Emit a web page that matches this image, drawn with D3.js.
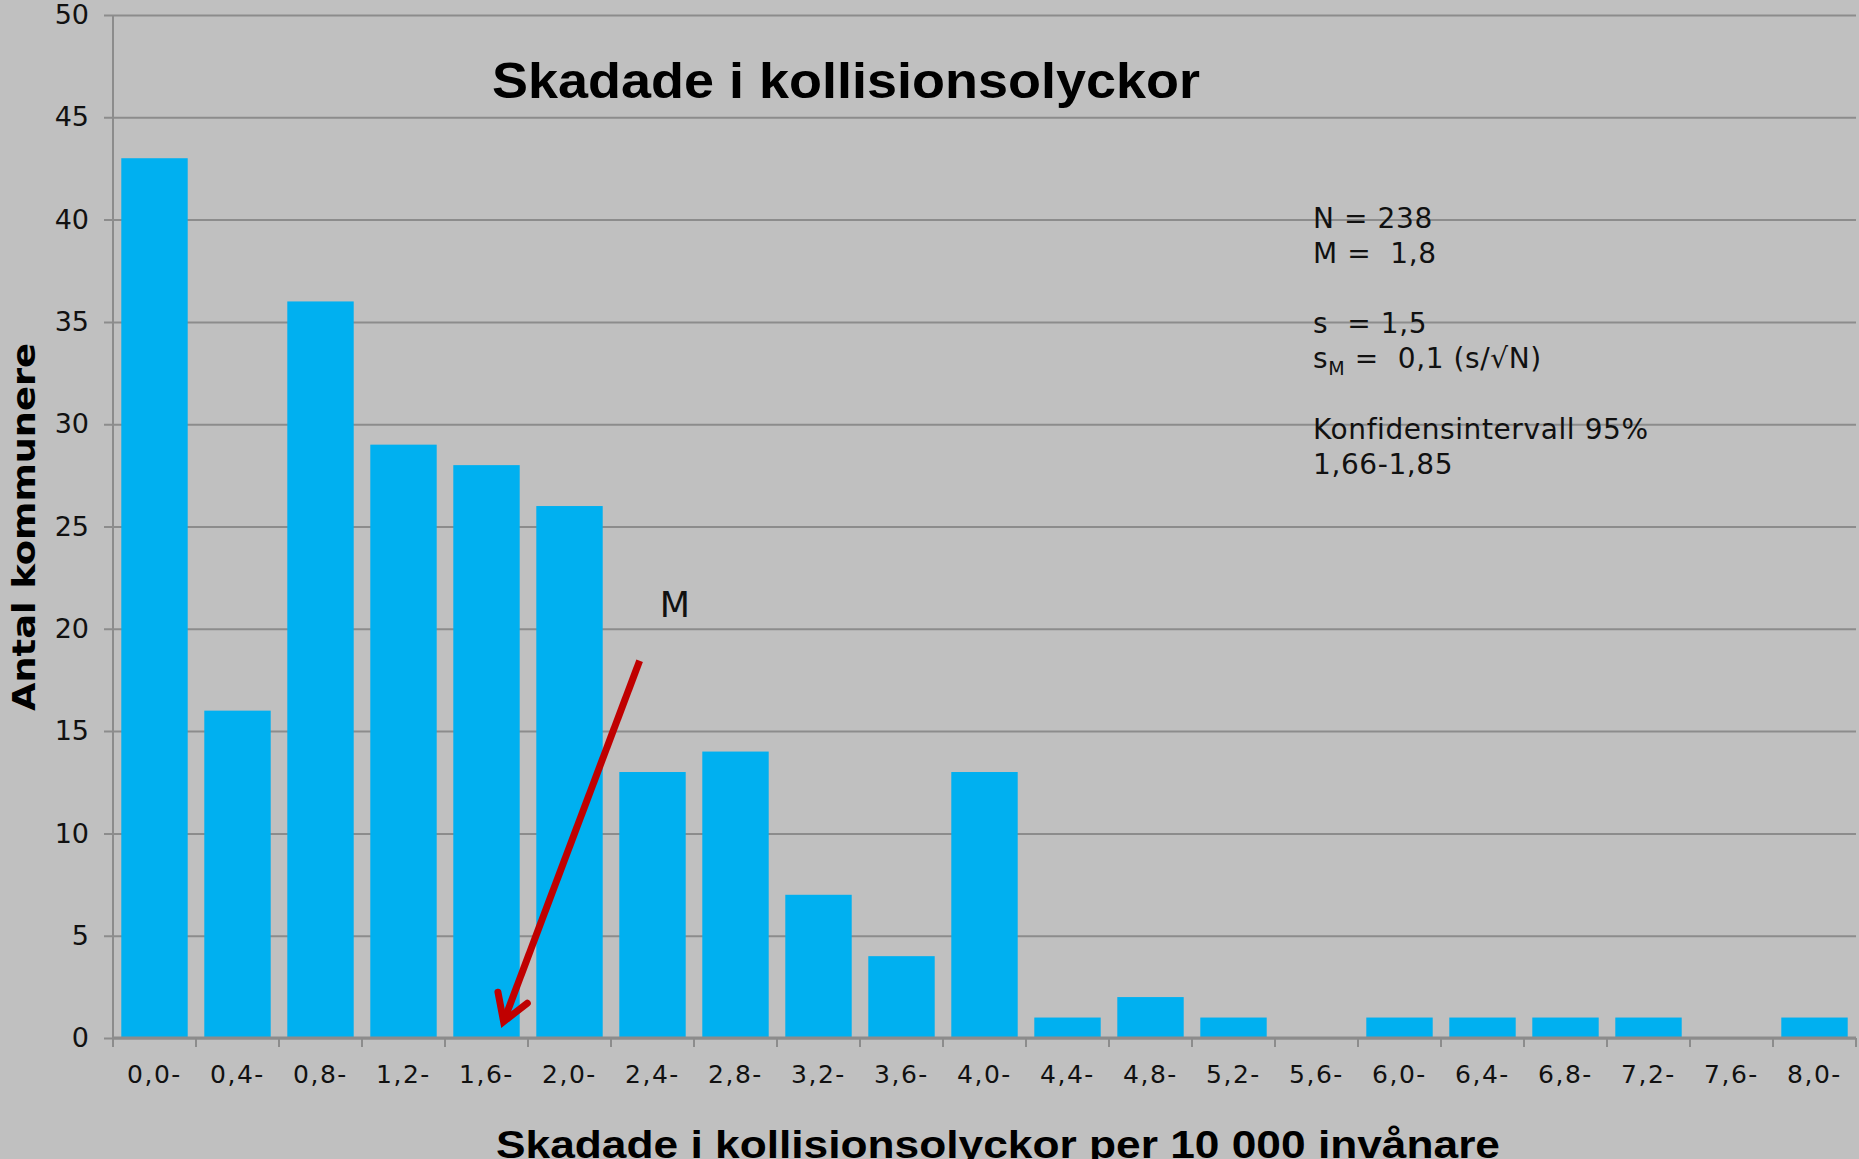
<!DOCTYPE html>
<html lang="sv">
    <head>
        <meta charset="utf-8">
        <title>Skadade i kollisionsolyckor</title>
        <script type="text/javascript" src="https://cdn.jsdelivr.net/npm/d3@7"></script>
        <style>
            body { margin: 0; background: #c0c0c0; }
        </style>
    </head>
    <body>
        <script type="text/javascript">
            // Data
            var categories = ["0,0-", "0,4-", "0,8-", "1,2-", "1,6-", "2,0-", "2,4-", "2,8-", "3,2-", "3,6-",
                              "4,0-", "4,4-", "4,8-", "5,2-", "5,6-", "6,0-", "6,4-", "6,8-", "7,2-", "7,6-", "8,0-"];
            var counts = [43, 16, 36, 29, 28, 26, 13, 14, 7, 4, 13, 1, 2, 1, 0, 1, 1, 1, 1, 0, 1];
            var yTicks = [0, 5, 10, 15, 20, 25, 30, 35, 40, 45, 50];
            var statLines = ["N = 238", "M =  1,8", "", "s  = 1,5", "sM =  0,1 (s/\u221AN)", "", "Konfidensintervall 95%", "1,66-1,85"];

            // Width and height
            var w = 1859;
            var h = 1159;
            var plotLeft = 113, plotRight = 1856, plotTop = 15, plotBottom = 1038;

            // Scales
            var xScale = d3.scaleBand()
                .domain(categories)
                .range([plotLeft, plotRight])
                .paddingInner(0.2)
                .paddingOuter(0.1);
            var yScale = d3.scaleLinear()
                .domain([0, 50])
                .range([plotBottom, plotTop]);

            var svg = d3.select("body")
                .append("svg")
                .attr("width", w)
                .attr("height", h)
                .style("display", "block");

            svg.append("rect")
                .attr("width", w)
                .attr("height", h)
                .attr("fill", "#c0c0c0");

            // Gridlines + y axis
            var yAxis = d3.axisLeft(yScale)
                .tickValues(yTicks)
                .tickSize(-(plotRight - plotLeft))
                .tickSizeOuter(0)
                .tickPadding(24);
            var gy = svg.append("g")
                .attr("transform", "translate(" + plotLeft + ",0)")
                .call(yAxis);
            gy.select(".domain").remove();
            gy.selectAll("line")
                .attr("x1", -9)
                .attr("stroke", "#8c8c8c")
                .attr("stroke-width", 2);
            gy.selectAll("text")
                .attr("font-family", "DejaVu Sans, Verdana, sans-serif")
                .attr("font-size", 27)
                .attr("fill", "#111");

            // Bars
            svg.selectAll("rect.bar")
                .data(counts)
                .enter()
                .append("rect")
                .attr("class", "bar")
                .attr("x", function(d, i) { return xScale(categories[i]); })
                .attr("y", function(d) { return yScale(d); })
                .attr("width", xScale.bandwidth())
                .attr("height", function(d) { return yScale(0) - yScale(d); })
                .attr("fill", "#00b0f0");

            // Vertical axis line
            svg.append("line")
                .attr("x1", plotLeft).attr("x2", plotLeft)
                .attr("y1", plotTop).attr("y2", plotBottom + 9)
                .attr("stroke", "#8c8c8c")
                .attr("stroke-width", 2);

            // X axis
            var step = xScale.step();
            var xAxis = d3.axisBottom(xScale)
                .tickSize(0)
                .tickPadding(27);
            var gx = svg.append("g")
                .attr("transform", "translate(0," + plotBottom + ")")
                .call(xAxis);
            gx.select(".domain")
                .attr("d", "M" + plotLeft + ",0H" + plotRight)
                .attr("stroke", "#8c8c8c")
                .attr("stroke-width", 3);
            gx.selectAll("text")
                .attr("font-family", "DejaVu Sans, Verdana, sans-serif")
                .attr("font-size", 25)
                .attr("letter-spacing", 1.5)
                .attr("fill", "#111");
            // category separators
            gx.selectAll("line.sep")
                .data(d3.range(categories.length + 1))
                .enter()
                .append("line")
                .attr("class", "sep")
                .attr("x1", function(i) { return plotLeft + i * step; })
                .attr("x2", function(i) { return plotLeft + i * step; })
                .attr("y1", 0)
                .attr("y2", 9)
                .attr("stroke", "#8c8c8c")
                .attr("stroke-width", 2);

            // Titles
            svg.append("text")
                .attr("x", 846)
                .attr("y", 98)
                .attr("text-anchor", "middle")
                .attr("font-family", "Liberation Sans, Arial, sans-serif")
                .attr("font-weight", "bold")
                .attr("font-size", 50)
                .attr("textLength", 708)
                .attr("lengthAdjust", "spacingAndGlyphs")
                .attr("fill", "#000")
                .text("Skadade i kollisionsolyckor");

            svg.append("text")
                .attr("x", 998)
                .attr("y", 1158)
                .attr("text-anchor", "middle")
                .attr("font-family", "Liberation Sans, Arial, sans-serif")
                .attr("font-weight", "bold")
                .attr("font-size", 38)
                .attr("textLength", 1004)
                .attr("lengthAdjust", "spacingAndGlyphs")
                .attr("fill", "#000")
                .text("Skadade i kollisionsolyckor per 10 000 invånare");

            svg.append("text")
                .attr("transform", "translate(35,527) rotate(-90)")
                .attr("text-anchor", "middle")
                .attr("font-family", "DejaVu Sans, Verdana, sans-serif")
                .attr("font-weight", "bold")
                .attr("font-size", 32)
                .attr("textLength", 368)
                .attr("lengthAdjust", "spacingAndGlyphs")
                .attr("fill", "#000")
                .text("Antal kommunere");

            // Statistics text block (double spaces kept as no-break spaces)
            var stats = svg.append("g")
                .attr("font-family", "DejaVu Sans, Verdana, sans-serif")
                .attr("font-size", 28)
                .attr("letter-spacing", 0.6)
                .attr("fill", "#111");
            var keepSpaces = function(s) { return s.replace(/ /g, "\u00A0"); };
            statLines.forEach(function(line, i) {
                if (!line) return;
                var t = stats.append("text")
                    .attr("x", 1313)
                    .attr("y", 228 + i * 35.1);
                if (line.indexOf("sM") === 0) {
                    t.append("tspan").text("s");
                    t.append("tspan").attr("font-size", 19).attr("dy", 7).text("M");
                    t.append("tspan").attr("dy", -7).text(keepSpaces(line.slice(2)));
                } else {
                    t.text(keepSpaces(line));
                }
            });

            // Mean annotation (positions in data units)
            var xPos = function(i) { return plotLeft + i * step; };
            svg.append("text")
                .attr("x", xPos(6.77))
                .attr("y", yScale(20.6))
                .attr("text-anchor", "middle")
                .attr("font-family", "DejaVu Sans, Verdana, sans-serif")
                .attr("font-size", 35)
                .attr("fill", "#111")
                .text("M");

            var tip = [xPos(4.706), yScale(0.8)];
            var start = [xPos(6.345), yScale(18.44)];
            svg.append("line")
                .attr("x1", start[0]).attr("y1", start[1])
                .attr("x2", tip[0]).attr("y2", tip[1])
                .attr("stroke", "#c00000")
                .attr("stroke-width", 7);
            var ang = Math.atan2(tip[1] - start[1], tip[0] - start[0]);
            var headLen = 30, spread = 0.55;
            var wing = function(s) {
                return [tip[0] - headLen * Math.cos(ang + s), tip[1] - headLen * Math.sin(ang + s)];
            };
            svg.append("path")
                .attr("d", d3.line()([wing(spread), tip, wing(-spread)]))
                .attr("fill", "none")
                .attr("stroke", "#c00000")
                .attr("stroke-width", 7)
                .attr("stroke-linecap", "round");
        </script>
    </body>
</html>
